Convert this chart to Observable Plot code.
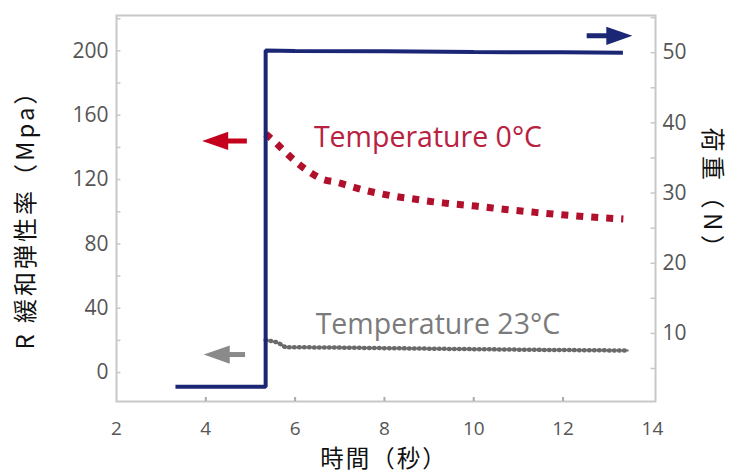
<!DOCTYPE html>
<html><head><meta charset="utf-8">
<script src="https://cdn.jsdelivr.net/npm/d3@7"></script>
<script src="https://cdn.jsdelivr.net/npm/@observablehq/plot@0.6"></script>
<style>
html,body{margin:0;padding:0;background:#fff}
.ttl-left text{letter-spacing:3px}
.ttl-right text{letter-spacing:4.5px}
.ttl-bottom text{letter-spacing:2px}
</style>
</head><body><div id="chart"></div>
<script>
// ---- axes ----
const xTicks = [2, 4, 6, 8, 10, 12, 14];
const leftTicks = [0, 40, 80, 120, 160, 200];
const rightTicks = [10, 20, 30, 40, 50];
const leftMinor = [0, 20, 40, 60, 80, 100, 120, 140, 160, 180, 200, 220];
const rightMinor = [5, 10, 15, 20, 25, 30, 35, 40, 45, 50, 55];
const xMinor = [4, 6, 8, 10, 12];
const xDomain = [2, 14.07];
const leftDomain = [-18, 222];
const rightDomain = [0.3, 55.3];

// ---- load (right axis, N) ----
const loadTime = [3.32, 5.34, 5.34, 6, 8, 10, 12, 13.34];
const loadN = [2.4, 2.4, 50.3, 50.25, 50.2, 50.1, 50.05, 50.0];

// ---- relaxation modulus, 0°C (left axis, MPa) ----
const t0Time = [5.34, 5.60, 5.83, 6.08, 6.34, 6.60, 6.94, 7.28, 7.61, 7.95, 8.28, 8.66, 9.03, 9.37, 10.04, 10.71, 11.38, 12.05, 12.72, 13.35];
const t0Mod = [148.4, 142.0, 135.8, 129.6, 124.4, 120.3, 118.2, 115.5, 113.0, 111.0, 109.3, 107.9, 106.4, 105.3, 103.5, 101.4, 99.6, 97.9, 96.5, 95.5];

// ---- relaxation modulus, 23°C ----
const t23Time = [5.34, 5.60, 5.78, 7.0, 9.5, 11.5, 13.45];
const t23Mod = [20.3, 18.8, 15.8, 15.5, 14.7, 14.1, 13.7];

// ---- annotations ----
const annoText = ["Temperature 0°C", "Temperature 23°C"];
const annoX = [6.42, 6.46];
const annoY = [140.1, 24.0];
const annoColor = ["#b8213f", "#7b7b7b"];

// arrows: tail x, head centre x, value, axis, colour, direction
const arrowTail = [4.93, 4.89, 12.54];
const arrowHead = [4.21, 4.245, 13.26];
const arrowVal = [144, 11.2, 52.4];
const arrowAxis = ["left", "left", "right"];
const arrowColor = ["#c4001c", "#8a8a8a", "#1b2674"];
const arrowRot = [-90, -90, 90];

const titleLeft = "R 緩和弾性率（Mpa）";
const titleRight = "荷重（N）";
const titleBottom = "時間（秒）";

// ---- helpers ----
const toLeft = r => leftDomain[0] + (r - rightDomain[0]) * (leftDomain[1] - leftDomain[0]) / (rightDomain[1] - rightDomain[0]);
const fromLeft = l => rightDomain[0] + (l - leftDomain[0]) * (rightDomain[1] - rightDomain[0]) / (leftDomain[1] - leftDomain[0]);

const loadData = loadTime.map((t, i) => ({t, v: toLeft(loadN[i])}));
const t0Data = t0Time.map((t, i) => ({t, v: t0Mod[i]}));
const t23Data = t23Time.map((t, i) => ({t, v: t23Mod[i]}));
const annoData = annoText.map((s, i) => ({s, x: annoX[i], y: annoY[i], c: annoColor[i]}));
const arrowData = arrowTail.map((t, i) => ({
  x1: t, x2: arrowHead[i],
  y: arrowAxis[i] === "right" ? toLeft(arrowVal[i]) : arrowVal[i],
  c: arrowColor[i], rot: arrowRot[i]
}));

const headSymbol = {
  draw(ctx, size) {
    const r = Math.sqrt(size / Math.PI);
    ctx.moveTo(0, -r);
    ctx.lineTo(0.7 * r, r);
    ctx.lineTo(-0.7 * r, r);
    ctx.closePath();
  }
};

const navy = "#1b2674";
const grid = "#c8c8c8";
const tickColor = "#555";
const cjk = "'Noto Sans CJK JP', sans-serif";

const chart = Plot.plot({
  width: 731, height: 473,
  marginLeft: 116, marginRight: 76, marginTop: 15, marginBottom: 72,
  x: {domain: xDomain},
  y: {domain: leftDomain},
  style: {fontFamily: "'Open Sans', sans-serif", background: "#fff"},
  marks: [
    Plot.frame({stroke: grid, strokeWidth: 2}),
    Plot.ruleY(leftMinor, {y: d => d, x1: xDomain[0], x2: xDomain[0] + 0.1, stroke: grid, strokeWidth: 1.5}),
    Plot.ruleY(rightMinor.map(toLeft), {y: d => d, x1: xDomain[1] - 0.1, x2: xDomain[1], stroke: grid, strokeWidth: 1.5}),
    Plot.ruleX(xMinor, {x: d => d, y1: leftDomain[0], y2: leftDomain[0] + 2.5, stroke: "#aaa", strokeWidth: 2}),
    Plot.axisX(xTicks, {tickSize: 0, tickPadding: 20, fontSize: 19, color: tickColor, label: null}),
    Plot.axisY(leftTicks, {anchor: "left", tickSize: 0, tickPadding: 8, fontSize: 21, color: tickColor, label: null}),
    Plot.axisY(rightTicks.map(toLeft), {anchor: "right", tickSize: 0, tickPadding: 7, fontSize: 21, color: tickColor, label: null,
      tickFormat: d => String(Math.round(fromLeft(d)))}),
    Plot.line(t23Data, {x: "t", y: "v", stroke: "#6a6a6a", strokeWidth: 4.5, strokeDasharray: "0.5,4.5", strokeLinecap: "round"}),
    Plot.line(t23Data, {x: "t", y: "v", stroke: "#6a6a6a", strokeWidth: 2}),
    Plot.line(t0Data, {x: "t", y: "v", stroke: "#b0102c", strokeWidth: 7, strokeDasharray: "7,8", strokeLinecap: "butt", curve: "monotone-x"}),
    Plot.line(loadData, {x: "t", y: "v", stroke: navy, strokeWidth: 4, strokeLinecap: "butt", strokeLinejoin: "miter"}),
    Plot.ruleY(arrowData, {y: "y", x1: "x1", x2: "x2", stroke: "c", strokeWidth: 5}),
    Plot.dot(arrowData, {x: "x2", y: "y", fill: "c", stroke: null, r: 13, symbol: headSymbol, rotate: "rot"}),
    Plot.text(annoData, {x: "x", y: "y", text: "s", fill: "c", fontSize: 28.5, textAnchor: "start", lineAnchor: "bottom"}),
    Plot.text([titleLeft], {frameAnchor: "left", textAnchor: "middle", lineAnchor: "middle", dx: -90, dy: 5, rotate: -90, fontSize: 24, fontFamily: cjk, fill: "#111", className: "ttl-left"}),
    Plot.text([titleRight], {frameAnchor: "right", textAnchor: "middle", lineAnchor: "middle", dx: 56, dy: -13, rotate: 90, fontSize: 24, fontFamily: cjk, fill: "#111", className: "ttl-right"}),
    Plot.text([titleBottom], {frameAnchor: "bottom", textAnchor: "middle", lineAnchor: "bottom", dx: -2, dy: 65, fontSize: 23.5, fontFamily: cjk, fill: "#111", className: "ttl-bottom"})
  ]
});
document.getElementById("chart").appendChild(chart);
</script>
</body></html>
